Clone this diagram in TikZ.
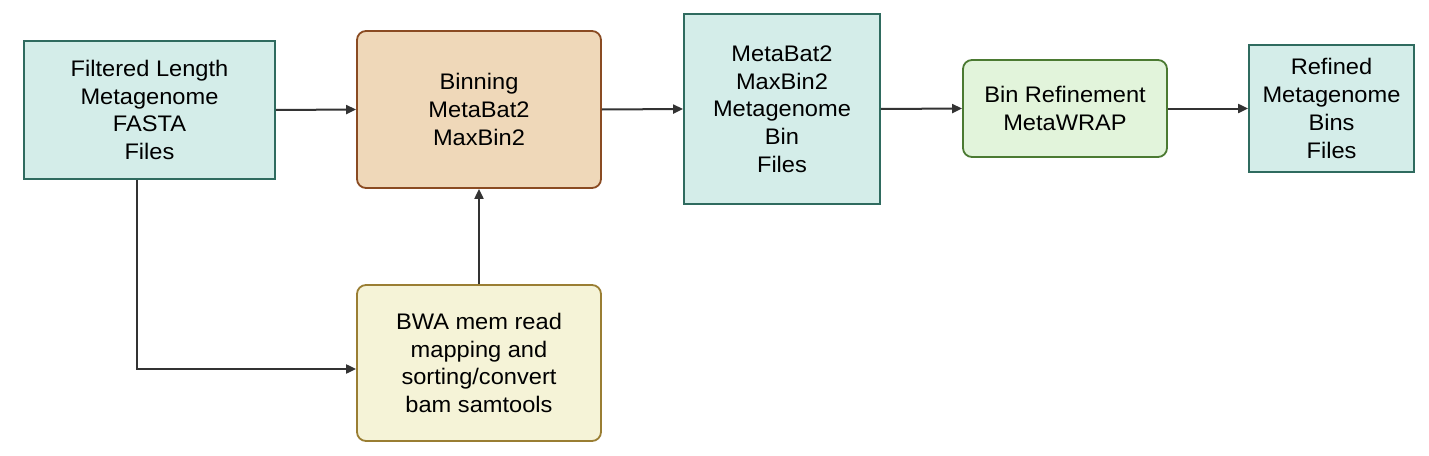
\documentclass[tikz,border=0pt]{standalone}
\usepackage{fontspec}
\setmainfont{Liberation Sans}[FakeStretch=1.05]
\usetikzlibrary{arrows.meta}
\definecolor{tealfill}{HTML}{D4EDE9}
\definecolor{tealdraw}{HTML}{2F6B5F}
\definecolor{tanfill}{HTML}{EFD8B9}
\definecolor{tandraw}{HTML}{8A4B22}
\definecolor{yelfill}{HTML}{F5F3D7}
\definecolor{yeldraw}{HTML}{9A7E33}
\definecolor{grnfill}{HTML}{E2F4DB}
\definecolor{grndraw}{HTML}{4B7A32}
\definecolor{arrowc}{HTML}{333333}
\tikzset{
  box/.style={draw, line width=1.8pt, align=center, inner sep=0pt,
    font=\fontsize{22.5}{27.7}\selectfont, text=black},
  filebox/.style={box, fill=tealfill, draw=tealdraw},
  binbox/.style={box, fill=tanfill, draw=tandraw, rounded corners=9pt},
  mapbox/.style={box, fill=yelfill, draw=yeldraw, rounded corners=9pt},
  refbox/.style={box, fill=grnfill, draw=grndraw, rounded corners=9pt},
  flow/.style={draw=arrowc, line width=2pt, -{Stealth[length=10pt,width=9pt,inset=0pt]}}
}
\begin{document}
\begin{tikzpicture}[x=1pt,y=-1pt]
\useasboundingbox[fill=white] (0,0) rectangle (1429,455);
\node[filebox, minimum width=251pt, minimum height=138pt] (A) at (149.5,110) {Filtered Length\\Metagenome\\FASTA\\Files};
\node[binbox, minimum width=244pt, minimum height=157pt] (B) at (479,109.5) {Binning\\MetaBat2\\MaxBin2};
\node[mapbox, minimum width=244pt, minimum height=156pt] (C) at (479,363) {BWA mem read\\mapping and\\sorting/convert\\bam samtools};
\node[filebox, minimum width=196pt, minimum height=190pt] (D) at (782,109) {MetaBat2\\MaxBin2\\Metagenome\\Bin\\Files};
\node[refbox, minimum width=204pt, minimum height=97pt] (E) at (1065,108.5) {Bin Refinement\\MetaWRAP};
\node[filebox, minimum width=165pt, minimum height=127pt] (F) at (1331.5,108.5) {Refined\\Metagenome\\Bins\\Files};
\coordinate (K) at (137,369);
\draw[flow] (A.east) -- (B.west);
\draw[flow] (B.east) -- (D.west);
\draw[flow] (D.east) -- (E.west);
\draw[flow] (E.east) -- (F.west);
\draw[flow] (C.north) -- (B.south);
\draw[flow] (A.south -| K) -- (K) -- (K -| C.west);
\end{tikzpicture}
\end{document}
